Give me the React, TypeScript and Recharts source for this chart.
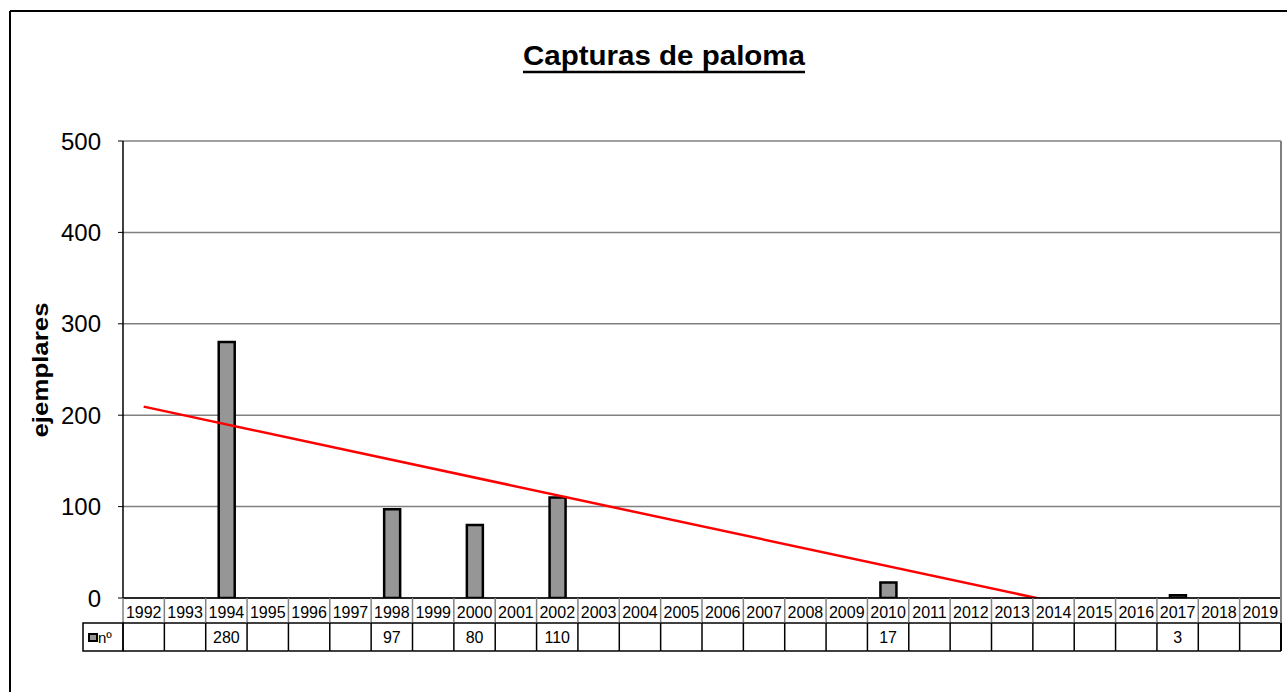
import React from "react";
import { ComposedChart, Bar, Line, XAxis, YAxis, CartesianGrid } from "recharts";

const years = [
  "1992", "1993", "1994", "1995", "1996", "1997", "1998", "1999", "2000", "2001",
  "2002", "2003", "2004", "2005", "2006", "2007", "2008", "2009", "2010", "2011",
  "2012", "2013", "2014", "2015", "2016", "2017", "2018", "2019",
];
const capturas = [
  null, null, 280, null, null, null, 97, null, 80, null,
  110, null, null, null, null, null, null, null, 17, null,
  null, null, null, null, null, 3, null, null,
];
// linear trend (Excel), read at its two ends; clipped at 0 by the axis
const trendYears = ["1992", "2014"];
const trendValues = [209.4, -4];
const yTicks = [0, 100, 200, 300, 400, 500];

const W = 1287;
const H = 692;
const PLOT_LEFT = 123;
const PLOT_RIGHT = 1281;
const PLOT_TOP = 141;
const PLOT_BOTTOM = 598;
const ROW1 = 623;
const ROW2 = 651;
const YAXIS_W = 70;
const XAXIS_H = 40;
const FONT = '"Liberation Sans", Arial, sans-serif';

const data = years.map((year, i) => {
  const t = trendYears.indexOf(year);
  return { year, n: capturas[i], trend: t >= 0 ? trendValues[t] : null };
});

const cellW = (PLOT_RIGHT - PLOT_LEFT) / years.length;

function TableTick(props: any) {
  const { x, index, payload } = props;
  const left = x - cellW / 2;
  const right = x + cellW / 2;
  const v = capturas[index];
  const last = index === years.length - 1;
  return (
    <g>
      <line x1={left} y1={PLOT_BOTTOM} x2={left} y2={ROW1} stroke="#808080" strokeWidth={1.5} />
      <line x1={left} y1={ROW1} x2={left} y2={ROW2} stroke="#000" strokeWidth={1.5} />
      <line x1={left} y1={ROW1} x2={right} y2={ROW1} stroke="#000" strokeWidth={1.5} />
      <line x1={left} y1={ROW2} x2={right} y2={ROW2} stroke="#000" strokeWidth={1.5} />
      {last && (
        <>
          <line x1={right} y1={PLOT_BOTTOM} x2={right} y2={ROW1} stroke="#808080" strokeWidth={2} />
          <line x1={right} y1={ROW1} x2={right} y2={ROW2} stroke="#000" strokeWidth={2} />
        </>
      )}
      <text x={x} y={618} textAnchor="middle" fontSize={16} fontFamily={FONT} fill="#000">
        {payload.value}
      </text>
      {v != null && (
        <text x={x} y={643} textAnchor="middle" fontSize={16} fontFamily={FONT} fill="#000">
          {v}
        </text>
      )}
      {index === 0 && (
        <g>
          <rect x={83} y={ROW1} width={left - 83} height={ROW2 - ROW1} fill="none" stroke="#000" strokeWidth={1.5} />
          <rect x={89} y={634} width={8} height={7} fill="#969696" stroke="#000" strokeWidth={2} />
          <text x={98} y={643} fontSize={15} fontFamily={FONT} fill="#000">nº</text>
        </g>
      )}
    </g>
  );
}

export default function App() {
  return (
    <div style={{ position: "absolute", left: 0, top: 0, width: W, height: H, background: "#fff", overflow: "hidden" }}>
      <ComposedChart
        width={W}
        height={H}
        data={data}
        margin={{
          top: PLOT_TOP,
          right: W - PLOT_RIGHT,
          bottom: H - PLOT_BOTTOM - XAXIS_H,
          left: PLOT_LEFT - YAXIS_W,
        }}
        barCategoryGap={0}
      >
        <CartesianGrid vertical={false} stroke="#808080" strokeWidth={1.5} />
        <XAxis
          dataKey="year"
          type="category"
          interval={0}
          height={XAXIS_H}
          axisLine={{ stroke: "#000", strokeWidth: 1.5 }}
          tickLine={false}
          tick={(p: any) => <TableTick {...p} />}
        />
        <YAxis
          width={YAXIS_W}
          domain={[0, 500]}
          ticks={yTicks}
          allowDataOverflow
          axisLine={{ stroke: "#000", strokeWidth: 1.5 }}
          tickLine={{ stroke: "#000" }}
          tickSize={5}
          tickMargin={17}
          tick={{ fontSize: 24, fill: "#000", fontFamily: FONT }}
        />
        <Bar
          dataKey="n"
          barSize={16}
          fill="#969696"
          stroke="#000"
          strokeWidth={2.5}
          isAnimationActive={false}
        />
        <Line
          dataKey="trend"
          type="linear"
          stroke="#FF0000"
          strokeWidth={2.5}
          dot={false}
          activeDot={false}
          connectNulls
          isAnimationActive={false}
        />
      </ComposedChart>
      <svg width={W} height={H} style={{ position: "absolute", left: 0, top: 0, pointerEvents: "none" }}>
        <line x1={10} y1={11} x2={W} y2={11} stroke="#000" strokeWidth={2} />
        <line x1={10} y1={11} x2={10} y2={H} stroke="#000" strokeWidth={2} />
        <line x1={PLOT_RIGHT} y1={PLOT_TOP} x2={PLOT_RIGHT} y2={PLOT_BOTTOM} stroke="#808080" strokeWidth={2} />
        <text
          x={664}
          y={65}
          textAnchor="middle"
          fontSize={28}
          fontWeight="bold"
          fontFamily={FONT}
          textLength={282}
          lengthAdjust="spacingAndGlyphs"
          fill="#000"
        >
          Capturas de paloma
        </text>
        <line x1={523} y1={72} x2={805} y2={72} stroke="#000" strokeWidth={2.5} />
        <text
          x={48}
          y={370}
          transform="rotate(-90, 48, 370)"
          textAnchor="middle"
          fontSize={22}
          fontWeight="bold"
          fontFamily={FONT}
          textLength={135}
          lengthAdjust="spacingAndGlyphs"
          fill="#000"
        >
          ejemplares
        </text>
      </svg>
    </div>
  );
}
